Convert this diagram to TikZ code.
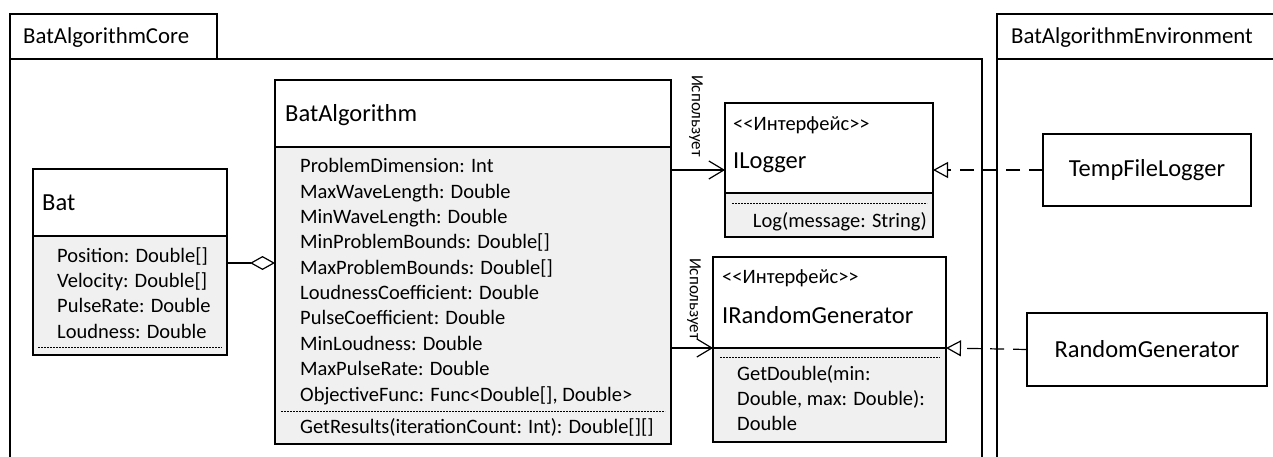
\documentclass[tikz,border=0pt]{standalone}
\usepackage{fontspec}
\setmainfont{Carlito}
\usetikzlibrary{arrows.meta}
\definecolor{compfill}{RGB}{240,240,240}
\tikzset{
  frame/.style={draw=black, line width=1.2pt, inner sep=0pt, outer sep=0pt, anchor=north west},
  comp/.style={frame, fill=compfill},
  txt/.style={inner sep=0pt, anchor=base west, font=\fontsize{20.5}{24}\selectfont},
  pkgtxt/.style={inner sep=0pt, anchor=base west, font=\fontsize{22.8}{26}\selectfont},
  ttl/.style={inner sep=0pt, anchor=base west, font=\fontsize{24.5}{28}\selectfont},
  stereo/.style={inner sep=0pt, anchor=base west, font=\fontsize{20.5}{24}\selectfont},
  uselbl/.style={inner sep=0pt, rotate=-90, font=\fontsize{17}{20}\selectfont},
  sep/.style={line width=0.9pt, dash pattern=on 2pt off 1pt},
  uses/.style={line width=1.2pt, -{Straight Barb[length=15pt,width=18pt]}},
  realize/.style={line width=1.2pt, dash pattern=on 14pt off 9pt, -{Triangle[open,length=15pt,width=16pt]}},
  aggr/.style={line width=1.2pt, -{Diamond[open,length=25pt,width=14pt]}}
}
\begin{document}
\begin{tikzpicture}[x=1pt,y=-1pt]
\useasboundingbox (0,0) rectangle (1273,457);
\clip (0,0) rectangle (1273,457);
\fill[white] (0,0) rectangle (1273,457);

% packages
\node[frame, minimum width=207pt, minimum height=45pt] (coretab) at (10,14) {};
\node[frame, minimum width=972pt, minimum height=420pt] (corebody) at (10,59) {};
\node[pkgtxt] (corelbl) at (23,43.5) {BatAlgorithmCore};
\node[frame, minimum width=300pt, minimum height=45pt] (envtab) at (997,14) {};
\node[frame, minimum width=300pt, minimum height=420pt] (envbody) at (997,59) {};
\node[pkgtxt] (envlbl) at (1011,44) {BatAlgorithmEnvironment};

% Bat
\node[frame, minimum width=194pt, minimum height=67pt] (bathead) at (33,169) {};
\node[comp, minimum width=194pt, minimum height=119pt] (batbody) at (33,236) {};
\node[ttl] (battitle) at (42,210) {Bat};
\node[txt] (b1) at (57,262) {Position: Double[]};
\node[txt] (b2) at (57,287.3) {Velocity: Double[]};
\node[txt] (b3) at (57,312.6) {PulseRate: Double};
\node[txt] (b4) at (57,338) {Loudness: Double};
\draw[sep] (38,347) -- (222,347);

% BatAlgorithm
\node[frame, minimum width=396pt, minimum height=67pt] (algohead) at (275,80) {};
\node[comp, minimum width=396pt, minimum height=297pt] (algobody) at (275,147) {};
\node[ttl] (algotitle) at (285,122) {BatAlgorithm};
\node[txt] (a1) at (300,172.7) {ProblemDimension: Int};
\node[txt] (a2) at (300,198) {MaxWaveLength: Double};
\node[txt] (a3) at (300,223.3) {MinWaveLength: Double};
\node[txt] (a4) at (300,248.6) {MinProblemBounds: Double[]};
\node[txt] (a5) at (300,274) {MaxProblemBounds: Double[]};
\node[txt] (a6) at (300,299.3) {LoudnessCoefficient: Double};
\node[txt] (a7) at (300,324.6) {PulseCoefficient: Double};
\node[txt] (a8) at (300,350) {MinLoudness: Double};
\node[txt] (a9) at (300,375.3) {MaxPulseRate: Double};
\node[txt] (a10) at (300,401) {ObjectiveFunc: Func{<}Double[], Double{>}};
\draw[sep] (281,411) -- (665,411);
\node[txt] (a11) at (300,433) {GetResults(iterationCount: Int): Double[][]};

% ILogger
\node[frame, minimum width=208pt, minimum height=90pt] (ilhead) at (725,103) {};
\node[comp, minimum width=208pt, minimum height=44pt] (ilbody) at (725,193) {};
\node[stereo] (ilst) at (733,131) {{<}{<}Интерфейс{>}{>}};
\node[ttl] (iltitle) at (733,168.5) {ILogger};
\draw[sep] (732,203) -- (927,203);
\node[txt, anchor=base east] (ilm) at (927,227) {Log(message: String)};

% IRandomGenerator
\node[frame, minimum width=233pt, minimum height=91pt] (irhead) at (713,257) {};
\node[comp, minimum width=233pt, minimum height=94pt] (irbody) at (713,348) {};
\node[stereo] (irst) at (722,283.5) {{<}{<}Интерфейс{>}{>}};
\node[ttl] (irtitle) at (722,323.5) {IRandomGenerator};
\draw[sep] (720,357) -- (940,357);
\node[txt] (irm1) at (737,380.5) {GetDouble(min:};
\node[txt] (irm2) at (737,405) {Double, max: Double):};
\node[txt] (irm3) at (737,430) {Double};

% implementations
\node[frame, anchor=center, minimum width=208pt, minimum height=72pt, font=\fontsize{24.5}{28}\selectfont] (tfl) at (1147,170) {TempFileLogger};
\node[frame, anchor=center, minimum width=240pt, minimum height=73pt, font=\fontsize{24.5}{28}\selectfont] (rg) at (1147,349.5) {RandomGenerator};

% connectors
\coordinate (aggy) at (0,263);
\draw[aggr] (batbody.east |- aggy) -- (algobody.west |- aggy);
\draw[uses] (algobody.east |- tfl.west) -- (ilhead.west |- tfl.west);
\draw[uses] (algobody.east |- irbody.north) -- (irbody.north west);
\draw[realize] (tfl.west) -- (ilhead.east |- tfl.west);
\draw[realize] (rg.west) -- (irbody.north east);

\node[uselbl] (u1) at (696,116) {Использует};
\node[uselbl] (u2) at (694,299) {Использует};
\end{tikzpicture}
\end{document}
